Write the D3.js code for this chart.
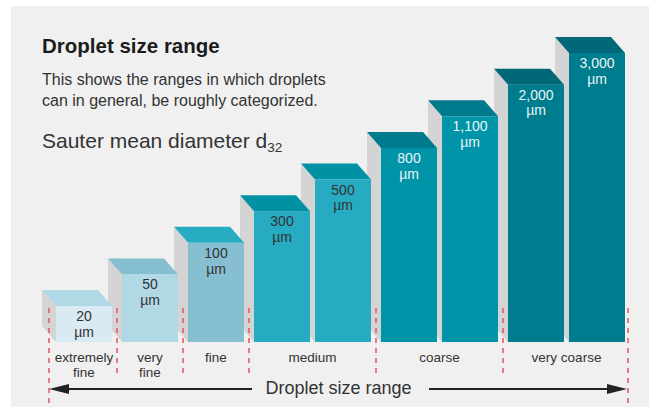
<!DOCTYPE html>
<html>
<head>
<meta charset="utf-8">
<script src="https://cdn.jsdelivr.net/npm/d3@7"></script>
<style>
  html, body { margin: 0; padding: 0; background: #fff; }
  svg text { font-family: 'Liberation Sans', Arial, Helvetica, sans-serif; }
</style>
</head>
<body>
<svg id="chart" width="649" height="407"></svg>
<script>
// data
const sizes = [20, 50, 100, 300, 500, 800, 1100, 2000, 3000];
const groups = ['extremely fine', 'very fine', 'fine', 'medium', 'coarse', 'very coarse'];
const groupOf = [0, 1, 2, 3, 3, 4, 4, 5, 5];
const unit = 'µm';

// palette
const frontCol = ['#d9ebf2', '#b0d8e5', '#86c0d0', '#27abc2', '#27abc2', '#0094a8', '#0094a8', '#007c8f', '#007c8f'];
const topCol = ['#b1d9e5', '#86c0d0', '#27abc2', '#0091a5', '#0091a5', '#007b8e', '#007b8e', '#006878', '#006878'];
const sideCol = '#d4d4d4';
const dashCol = '#e9505c';

// set the dimensions
let sWidth = 649,
  sHeigh = 407,
  base = 342,
  bWidth = 56,
  gap = 5,
  dx = 14,
  dy = 16;

const svg = d3.select('#chart');
const fmt = d3.format(',');

// scales
const x = d3.scaleLinear().domain([0, sizes.length - 1]).range([56, 56 + 8 * 61]);
const y = d3.scalePoint().domain(sizes).range([306, 53]);
const front = d3.scaleOrdinal().domain(sizes).range(frontCol);
const topc = d3.scaleOrdinal().domain(sizes).range(topCol);

const xPos = (i) => x(i) + groupOf[i] * gap;

// panel
svg.append('rect').attr('x', 11).attr('y', 6).attr('width', sWidth - 11).attr('height', sHeigh - 6).attr('fill', '#f0f0f0');

// titles
svg.append('text').attr('x', 42).attr('y', 53).attr('font-size', 20.5).attr('font-weight', 'bold').attr('fill', '#1c1c1c').text('Droplet size range');

svg
  .append('text')
  .attr('font-size', 16)
  .attr('fill', '#333')
  .selectAll('tspan')
  .data(['This shows the ranges in which droplets', 'can in general, be roughly categorized.'])
  .join('tspan')
  .attr('x', 42)
  .attr('y', (d, i) => 85 + i * 21)
  .text((d) => d);

const sauter = svg.append('text').attr('x', 42).attr('y', 148).attr('font-size', 21).attr('fill', '#333');
sauter.append('tspan').text('Sauter mean diameter d');
sauter.append('tspan').attr('font-size', 13.5).attr('dy', 4).text('32');

// bars, drawn right to left so each front face covers the next side face
const bars = svg
  .append('g')
  .selectAll('g')
  .data(sizes.map((v, i) => ({ v, i })).reverse())
  .join('g');

bars
  .append('path')
  .attr('fill', sideCol)
  .attr('d', (d) => {
    let x0 = xPos(d.i),
      t = y(d.v);
    return d3.line()([[x0 - dx, t - dy], [x0, t], [x0, base], [x0 - dx, base - dy]]) + 'Z';
  });

bars
  .append('path')
  .attr('fill', (d) => topc(d.v))
  .attr('d', (d) => {
    let x0 = xPos(d.i),
      t = y(d.v);
    return d3.line()([[x0 - dx, t - dy], [x0 + bWidth - dx, t - dy], [x0 + bWidth, t], [x0, t]]) + 'Z';
  });

bars
  .append('rect')
  .attr('x', (d) => xPos(d.i))
  .attr('y', (d) => y(d.v))
  .attr('width', bWidth)
  .attr('height', (d) => base - y(d.v))
  .attr('fill', (d) => front(d.v));

// value labels
bars
  .append('text')
  .attr('text-anchor', 'middle')
  .attr('font-size', 14)
  .attr('fill', (d) => (d.i > 4 ? '#e8f4f6' : '#333'))
  .selectAll('tspan')
  .data((d) => [
    { d, t: fmt(d.v), k: 0 },
    { d, t: unit, k: 1 },
  ])
  .join('tspan')
  .attr('x', (e) => xPos(e.d.i) + bWidth / 2)
  .attr('y', (e) => y(e.d.v) + 15 + e.k * 15.8)
  .text((e) => e.t);

// group boundaries
const bounds = groups.map((g, k) => {
  let first = groupOf.indexOf(k);
  return k === 0 ? xPos(first) - 7 : xPos(first) - gap;
});
bounds.push(xPos(sizes.length - 1) + bWidth + 3);

svg
  .append('g')
  .selectAll('line')
  .data(bounds)
  .join('line')
  .attr('x1', (d) => d)
  .attr('x2', (d) => d)
  .attr('y1', 308)
  .attr('y2', (d, i) => (i === 0 || i === bounds.length - 1 ? sHeigh : 374))
  .attr('stroke', dashCol)
  .attr('stroke-width', 1.5)
  .attr('stroke-dasharray', '5,5');

// group labels
svg
  .append('g')
  .selectAll('text')
  .data(groups)
  .join('text')
  .attr('text-anchor', 'middle')
  .attr('font-size', 13.5)
  .attr('fill', '#333')
  .each(function (g, k) {
    let idx = d3.range(sizes.length).filter((i) => groupOf[i] === k);
    let cx = d3.mean(idx, (i) => xPos(i) + bWidth / 2);
    let words = k < 2 ? g.split(' ') : [g];
    d3.select(this)
      .selectAll('tspan')
      .data(words)
      .join('tspan')
      .attr('x', cx)
      .attr('y', (w, j) => 362 + j * 15.2)
      .text((w) => w);
  });

// axis arrow
let ay = 389,
  aL = bounds[0],
  aR = bounds[bounds.length - 1] - 1;

svg.append('line').attr('x1', aL + 18).attr('x2', 252).attr('y1', ay).attr('y2', ay).attr('stroke', '#222').attr('stroke-width', 2);
svg.append('line').attr('x1', 429).attr('x2', aR - 18).attr('y1', ay).attr('y2', ay).attr('stroke', '#222').attr('stroke-width', 2);
svg.append('path').attr('fill', '#222').attr('d', d3.line()([[aL, ay], [aL + 20, ay - 5], [aL + 20, ay + 5]]) + 'Z');
svg.append('path').attr('fill', '#222').attr('d', d3.line()([[aR, ay], [aR - 20, ay - 5], [aR - 20, ay + 5]]) + 'Z');

svg.append('text').attr('x', 338.5).attr('y', 394).attr('text-anchor', 'middle').attr('font-size', 18).attr('fill', '#333').text('Droplet size range');
</script>
</body>
</html>
